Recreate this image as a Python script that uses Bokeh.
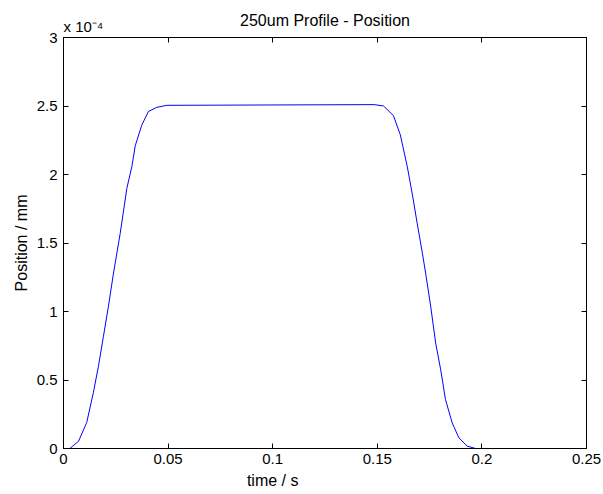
from bokeh.plotting import figure
from bokeh.models import Range1d, LinearAxis, FixedTicker
from bokeh.embed import file_html
from bokeh.resources import INLINE

# ---- data (position in units of 1e-4 mm) ----
time_s = [0.0, 0.003, 0.0072, 0.0111, 0.0143, 0.0167, 0.0191, 0.0215, 0.0239,
          0.0271, 0.0303, 0.0327, 0.0343, 0.0374, 0.0406, 0.0446, 0.0494,
          0.1485, 0.153, 0.1577, 0.161, 0.1643, 0.1667, 0.1691, 0.1715,
          0.1731, 0.1755, 0.1779, 0.1803, 0.1826, 0.1858, 0.189, 0.193,
          0.197, 0.25]
position_e4 = [0.0, 0.0, 0.053, 0.19, 0.41, 0.60, 0.82, 1.04, 1.28,
               1.57, 1.90, 2.06, 2.21, 2.36, 2.46, 2.49, 2.505,
               2.51, 2.50, 2.43, 2.29, 2.06, 1.86, 1.64, 1.43,
               1.28, 1.04, 0.77, 0.575, 0.357, 0.187, 0.078, 0.017,
               0.0, 0.0]

x_ticks = [0.0, 0.05, 0.1, 0.15, 0.2, 0.25]
x_tick_labels = ["0", "0.05", "0.1", "0.15", "0.2", "0.25"]
y_ticks = [0.0, 0.5, 1.0, 1.5, 2.0, 2.5, 3.0]
y_tick_labels = ["0", "0.5", "1", "1.5", "2", "2.5", "3"]

title_text = "250um Profile - Position"
x_label_text = "time / s"
y_label_text = "Position / mm"
exponent_text = "x 10\u207b\u2074"

# where the MATLAB-style texts sit along the x axis
x_label_at = 0.1
exponent_at = 0.0095

FONT = "Liberation Sans"

p = figure(frame_width=523, frame_height=411,
           min_border_left=63, min_border_right=17,
           min_border_top=37, min_border_bottom=46,
           x_range=Range1d(0, 0.25), y_range=Range1d(0, 3),
           output_backend="svg", toolbar_location=None,
           background_fill_color="white", border_fill_color="white")

p.xgrid.visible = False
p.ygrid.visible = False
p.outline_line_color = "black"
p.outline_line_width = 1


def base(ax):
    ax.minor_tick_in = 0
    ax.minor_tick_out = 0
    ax.major_tick_out = 0
    ax.axis_line_color = "black"
    ax.major_tick_line_color = "black"
    ax.major_label_text_font = FONT
    ax.major_label_text_color = "black"
    ax.major_label_text_font_size = "15px"
    ax.axis_label_text_font = FONT
    ax.axis_label_text_font_style = "normal"
    ax.axis_label_text_color = "black"
    ax.axis_label_text_font_size = "16px"


def text_only(ax):
    ax.axis_line_color = None
    ax.major_tick_line_color = None
    ax.minor_tick_line_color = None
    ax.major_tick_in = 0


# bottom axis: ticks + tick labels
bx = p.xaxis[0]
base(bx)
bx.ticker = FixedTicker(ticks=x_ticks)
bx.major_label_overrides = dict(zip(x_ticks, x_tick_labels))
bx.major_tick_in = 5
bx.major_label_standoff = 5

# left axis: ticks + tick labels + axis label
ly = p.yaxis[0]
base(ly)
ly.ticker = FixedTicker(ticks=y_ticks)
ly.major_label_overrides = dict(zip(y_ticks, y_tick_labels))
ly.major_tick_in = 5
ly.major_label_standoff = 6
ly.axis_label = y_label_text
ly.axis_label_standoff = 4

# top axis: inward ticks only
tx = LinearAxis(ticker=FixedTicker(ticks=x_ticks))
base(tx)
tx.major_tick_in = 5
tx.major_label_overrides = {t: "" for t in x_ticks}
tx.major_label_standoff = 0
p.add_layout(tx, "above")

# right axis: inward ticks only
ry = LinearAxis(ticker=FixedTicker(ticks=y_ticks))
base(ry)
ry.major_tick_in = 5
ry.major_label_overrides = {t: "" for t in y_ticks}
ry.major_label_standoff = 0
p.add_layout(ry, "right")

# text-only top axis: exponent marker + title
tt = LinearAxis(ticker=FixedTicker(ticks=[exponent_at]))
base(tt)
text_only(tt)
tt.major_label_overrides = {exponent_at: exponent_text}
tt.major_label_standoff = 3
tt.axis_label = title_text
tt.axis_label_standoff = -14
p.add_layout(tt, "above")

# text-only bottom axis: x label
bt = LinearAxis(ticker=FixedTicker(ticks=[x_label_at]))
base(bt)
text_only(bt)
bt.major_label_overrides = {x_label_at: x_label_text}
bt.major_label_text_font_size = "16px"
bt.major_label_standoff = 5
p.add_layout(bt, "below")

p.line(time_s, position_e4, line_color="#0000FF", line_width=1)

open("out.html", "w").write(file_html(p, INLINE))
